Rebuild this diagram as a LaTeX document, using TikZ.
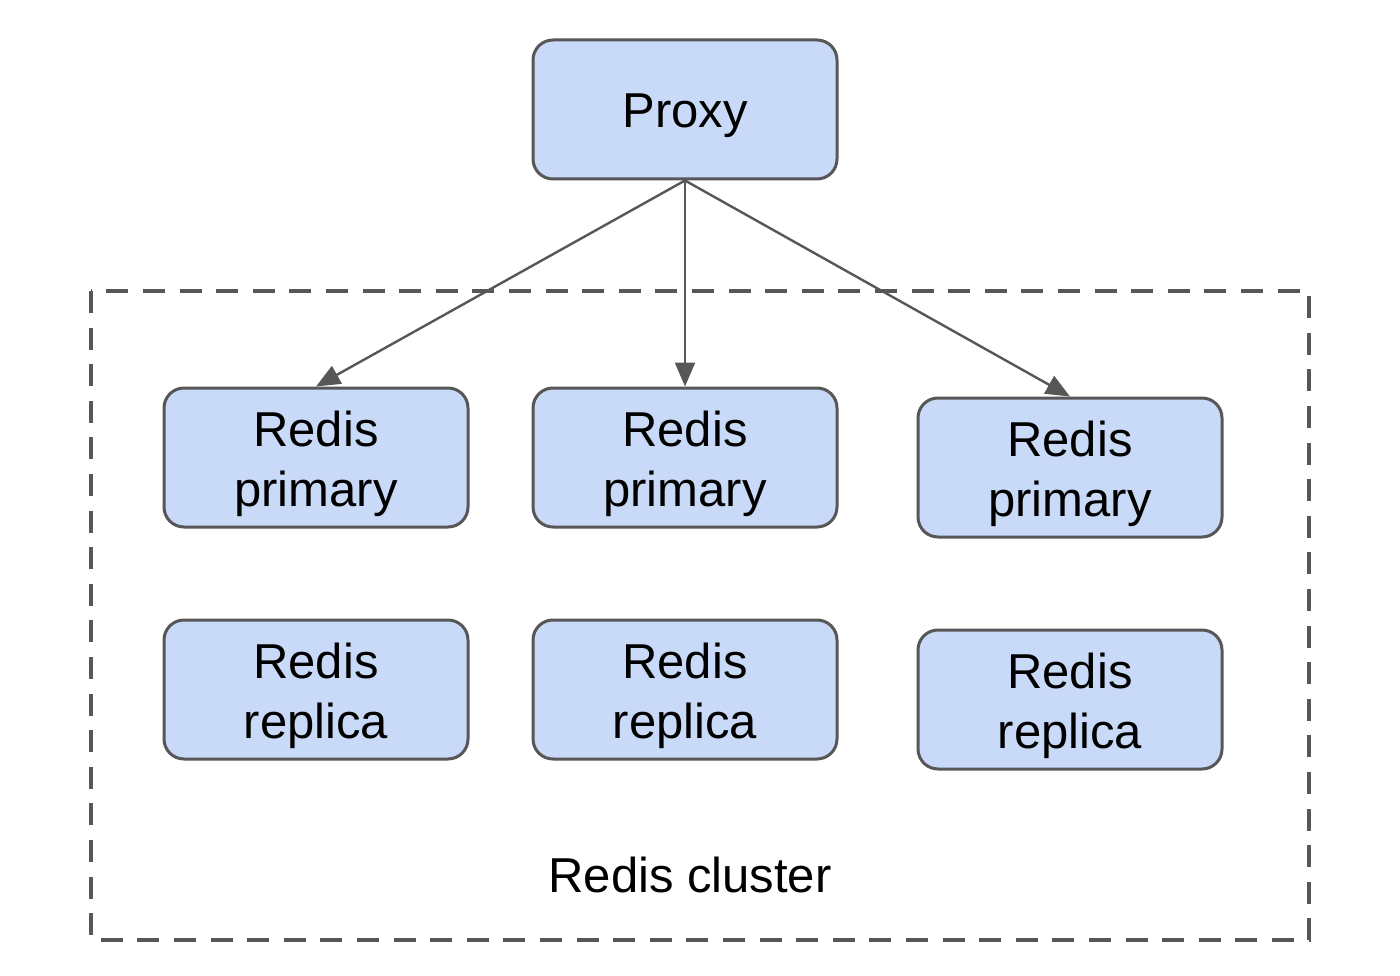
\documentclass[tikz,border=0pt]{standalone}
\usepackage{fontspec}
\setmainfont{Liberation Sans}
\usetikzlibrary{arrows.meta}
\definecolor{boxfill}{HTML}{C9DAF8}
\definecolor{edge}{HTML}{575757}
\begin{document}
\begin{tikzpicture}[x=1pt,y=-1pt,
  box/.style={draw=edge, fill=boxfill, line width=3pt, rounded corners=20pt,
    minimum width=304pt, minimum height=139pt, inner sep=0pt},
  txt/.style={align=center, font=\fontsize{49}{60}\selectfont, inner sep=0pt},
  conn/.style={draw=edge, line width=2.4pt, -{Triangle[length=24pt,width=20pt]}}
]
\useasboundingbox (0,0) rectangle (1400,976);
\fill[white] (0,0) rectangle (1400,976);
% cluster frame
\draw[edge, line width=4.5pt, dash pattern=on 22pt off 14.6pt] (91,291) rectangle (1309,940);
\node[txt, anchor=base] (cl) at (690,892) {Redis cluster};
% nodes
\node[box, label={[txt, yshift=-6pt]center:Proxy}] (px) at (685,109.5) {};
\node[box, label={[txt, yshift=-6.5pt]center:Redis\\primary}] (p1) at (316,457.5) {};
\node[box, label={[txt, yshift=-6.5pt]center:Redis\\primary}] (p2) at (685,457.5) {};
\node[box, label={[txt, yshift=-6.5pt]center:Redis\\primary}] (p3) at (1070,467.5) {};
\node[box, label={[txt, yshift=-6.5pt]center:Redis\\replica}] (r1) at (316,689.5) {};
\node[box, label={[txt, yshift=-6.5pt]center:Redis\\replica}] (r2) at (685,689.5) {};
\node[box, label={[txt, yshift=-6.5pt]center:Redis\\replica}] (r3) at (1070,699.5) {};
% connectors
\draw[conn] (px.south) -- (p1.north);
\draw[conn] (px.south) -- (p2.north);
\draw[conn] (px.south) -- (p3.north);
\end{tikzpicture}
\end{document}
